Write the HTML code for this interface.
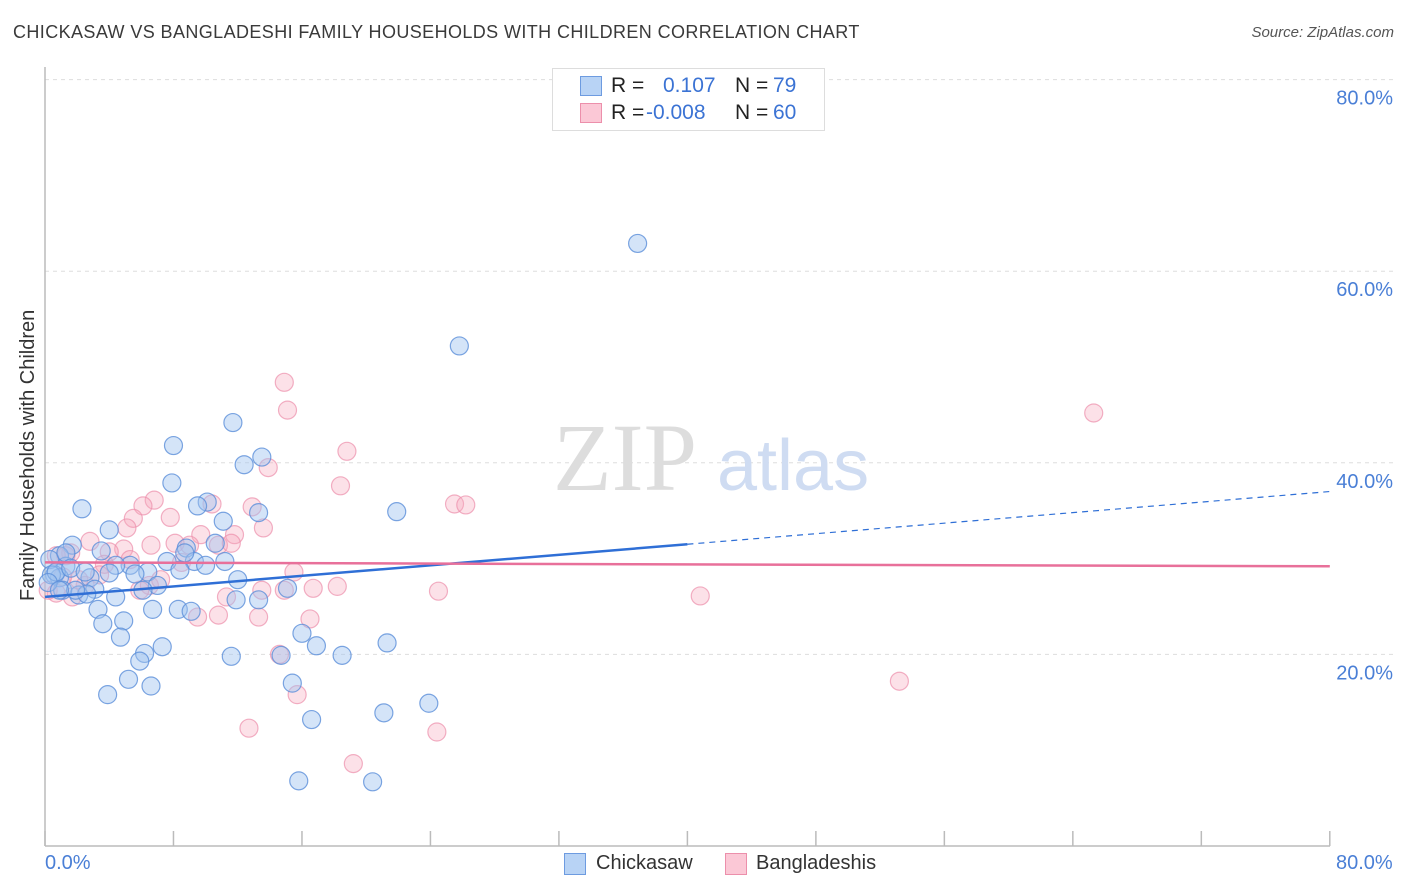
<!DOCTYPE html>
<html><head><meta charset="utf-8">
<style>
body{margin:0;background:#fff;font-family:"Liberation Sans",sans-serif;}
#wrap{position:relative;width:1406px;height:892px;overflow:hidden;}
.t{position:absolute;white-space:nowrap;}
</style></head>
<body>
<div id="wrap">
<div class="t" style="left:13px;top:22px;font-size:18px;color:#3a3a3a;letter-spacing:0.4px;">CHICKASAW VS BANGLADESHI FAMILY HOUSEHOLDS WITH CHILDREN CORRELATION CHART</div>
<div class="t" style="right:12px;top:24px;font-size:15px;color:#555;font-style:italic;">Source: ZipAtlas.com</div>
<svg id="chart" width="1406" height="892" style="position:absolute;left:0;top:0"></svg>
</div>
<script>
const blueX=[36.9,25.8,11.7,8.0,13.5,12.4,7.9,10.1,9.5,13.3,11.1,2.3,21.9,4.0,1.7,3.5,8.8,10.6,7.6,9.3,11.2,5.3,4.4,6.4,4.0,8.4,0.9,1.3,2.8,5.6,7.0,12.0,0.6,0.9,3.1,2.1,2.6,4.4,6.1,15.1,11.9,13.3,3.3,6.7,8.3,9.1,4.9,3.6,4.7,16.0,7.3,6.2,5.9,16.9,11.6,14.7,18.5,21.3,5.2,6.6,3.9,15.4,23.9,21.1,16.6,15.8,20.4,0.3,0.4,0.7,1.3,1.1,1.9,1.6,2.5,0.2,0.9,8.7,10.0];
const blueY=[62.9,52.2,44.2,41.8,40.6,39.8,37.9,35.9,35.5,34.8,33.9,35.2,34.9,33.0,31.4,30.8,31.1,31.6,29.7,29.7,29.7,29.3,29.3,28.6,28.5,28.8,30.3,29.2,28.0,28.4,27.2,27.8,28.3,28.0,26.8,26.2,26.3,26.0,26.7,26.9,25.7,25.7,24.7,24.7,24.7,24.5,23.5,23.2,21.8,22.2,20.8,20.1,19.3,20.9,19.8,19.9,19.9,21.2,17.4,16.7,15.8,17.0,14.9,13.9,13.2,6.8,6.7,29.9,28.3,28.6,30.6,26.7,26.7,29.0,28.6,27.5,26.7,30.6,29.3];
const pinkX=[14.9,15.1,65.3,18.8,13.9,18.4,6.8,6.1,10.4,5.5,7.8,5.1,12.9,13.6,11.8,9.7,2.8,6.6,8.1,9.0,10.8,11.6,4.9,4.0,1.6,0.7,1.3,3.7,3.4,5.3,8.5,6.5,7.2,5.9,2.5,2.1,0.7,1.7,0.2,25.5,26.2,15.5,14.9,16.7,18.2,11.3,9.5,10.8,13.3,16.5,24.5,40.8,14.6,15.7,12.7,24.4,19.2,53.2,13.5,1.1];
const pinkY=[48.4,45.5,45.2,41.2,39.5,37.6,36.1,35.5,35.7,34.2,34.3,33.2,35.4,33.2,32.5,32.5,31.8,31.4,31.6,31.4,31.4,31.6,31.0,30.7,30.6,30.3,30.3,29.4,28.3,29.9,29.6,27.2,27.8,26.7,27.2,27.8,26.4,26.0,26.7,35.7,35.6,28.6,26.7,26.9,27.1,26.0,23.9,24.1,23.9,23.7,26.6,26.1,20.0,15.8,12.3,11.9,8.6,17.2,26.7,28.1];
const yTicks=[20,40,60,80];
const yTickLabels=["20.0%","40.0%","60.0%","80.0%"];
const blueTrend=[26.0,0.1375]; // intercept, slope
const pinkTrend=[29.6,-0.005];
const blueSolidEnd=40;

const NS="http://www.w3.org/2000/svg";
const svg=document.getElementById('chart');
const X=v=>45+v*16.06, Y=v=>846-v*9.58;
function mk(tag,attrs){const e=document.createElementNS(NS,tag);for(const k in attrs)e.setAttribute(k,attrs[k]);svg.appendChild(e);return e;}

yTicks.forEach((t,i)=>{
  const g=mk('line',{x1:45,x2:1393,y1:Y(t),y2:Y(t),stroke:'#ddd','stroke-dasharray':'4,4','stroke-width':1});
  
  
  const l=mk('text',{x:1393,y:Y(t)+25,'text-anchor':'end','font-size':20,fill:'#4a7fd6','font-family':'Liberation Sans, sans-serif'});
  l.textContent=yTickLabels[i];
  
  
});
const ax=mk('line',{x1:45,x2:45,y1:67,y2:846,stroke:'#bbb','stroke-width':1.5});


const bx=mk('line',{x1:45,x2:1330,y1:846,y2:846,stroke:'#bbb','stroke-width':1.5});


for(let i=0;i<=10;i++){
  const tk=mk('line',{x1:X(i*8),x2:X(i*8),y1:831,y2:846,stroke:'#bbb','stroke-width':1.5});
  
  
}
const wm=mk('text',{x:553,y:490,'font-size':96,fill:'#ddd','font-family':'Liberation Serif, serif'});
wm.textContent='ZIP';


const wm2=mk('text',{x:717,y:490,'font-size':72,fill:'#cfdcf2','font-family':'Liberation Sans, sans-serif'});
wm2.textContent='atlas';



pinkX.forEach((x,i)=>{
  const c=mk('circle',{cx:X(x),cy:Y(pinkY[i]),r:9,fill:'rgba(246,168,190,0.35)',stroke:'#ec8fab','stroke-width':1.2,'stroke-opacity':0.7});
  
  
});
blueX.forEach((x,i)=>{
  const c=mk('circle',{cx:X(x),cy:Y(blueY[i]),r:9,fill:'rgba(160,196,240,0.45)',stroke:'#5b8fd9','stroke-width':1.2,'stroke-opacity':0.8});
  
  
});
const bl=mk('line',{x1:X(0),y1:Y(blueTrend[0]),x2:X(blueSolidEnd),y2:Y(blueTrend[0]+blueTrend[1]*blueSolidEnd),stroke:'#2f6fd6','stroke-width':2.5});


const bd=mk('line',{x1:X(blueSolidEnd),y1:Y(blueTrend[0]+blueTrend[1]*blueSolidEnd),x2:X(80),y2:Y(blueTrend[0]+blueTrend[1]*80),stroke:'#2f6fd6','stroke-width':1.2,'stroke-dasharray':'6,5'});


const pl=mk('line',{x1:X(0),y1:Y(pinkTrend[0]),x2:X(80),y2:Y(pinkTrend[0]+pinkTrend[1]*80),stroke:'#e8709a','stroke-width':2.5});


</script>
<div class="t" style="left:17px;top:601px;transform:rotate(-90deg);transform-origin:0 0;font-size:20px;color:#333;">Family Households with Children</div>
<div class="t" style="left:45px;top:852px;font-size:20px;color:#4a7fd6;">0.0%</div>
<div class="t" style="left:1336px;top:852px;font-size:20px;color:#4a7fd6;">80.0%</div>
<div style="position:absolute;left:552px;top:68px;width:271px;height:61px;border:1px solid #ddd;background:#fff;font-size:21px;">
  <div style="position:absolute;left:27px;top:7px;width:20px;height:18px;background:#b8d3f5;border:1px solid #6d9be0"></div>
  <div class="t" style="left:58px;top:5px;color:#222">R =</div>
  <div class="t" style="left:110px;top:5px;color:#3b73d4">0.107</div>
  <div class="t" style="left:182px;top:5px;color:#222">N =</div>
  <div class="t" style="left:220px;top:5px;color:#3b73d4">79</div>
  <div style="position:absolute;left:27px;top:34px;width:20px;height:18px;background:#fbc8d6;border:1px solid #ec8fab"></div>
  <div class="t" style="left:58px;top:32px;color:#222">R =</div>
  <div class="t" style="left:93px;top:32px;color:#3b73d4">-0.008</div>
  <div class="t" style="left:182px;top:32px;color:#222">N =</div>
  <div class="t" style="left:220px;top:32px;color:#3b73d4">60</div>
</div>
<div style="position:absolute;left:564px;top:853px;width:20px;height:20px;background:#b8d3f5;border:1px solid #6d9be0"></div>
<div class="t" style="left:596px;top:852px;font-size:20px;color:#333">Chickasaw</div>
<div style="position:absolute;left:725px;top:853px;width:20px;height:20px;background:#fbc8d6;border:1px solid #ec8fab"></div>
<div class="t" style="left:756px;top:852px;font-size:20px;color:#333">Bangladeshis</div>
</body></html>
